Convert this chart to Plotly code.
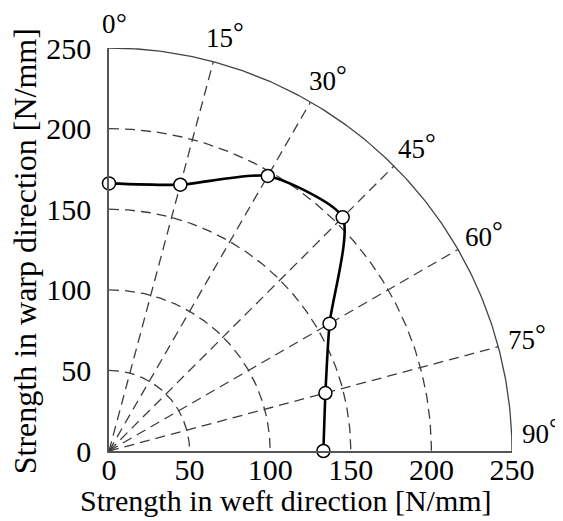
import numpy as np
import plotly.graph_objects as go

# ---- data ----
angle_deg = [0, 15, 30, 45, 60, 75, 90]          # loading direction (deg from warp)
strength = [166, 171, 197, 205, 158, 139, 133]   # tensile strength [N/mm]
grid_radii = [50, 100, 150, 200]
outer_radius = 250
ray_angles = [15, 30, 45, 60, 75]
label_angles = [0, 15, 30, 45, 60, 75, 90]
tick_vals = [0, 50, 100, 150, 200, 250]
tick_text = ["0", "50", "100", "150", "200", "250"]

FONT = "Liberation Serif"
GRID = "#3c3c3c"
AX_MAX = 250.0
LABEL_R = 265
LABEL_MAX_ANGLE = 87.7
LABEL_SIZE = 27
M_TOP = 40
PLOT_H = 403

th = np.radians(angle_deg)
r = np.array(strength, dtype=float)
weft = r * np.sin(th)
warp = r * np.cos(th)

fig = go.Figure()

# dashed arcs
phi = np.linspace(0, np.pi / 2, 200)
for rad in grid_radii:
    fig.add_trace(go.Scatter(x=rad * np.sin(phi), y=rad * np.cos(phi), mode="lines",
                             line=dict(color=GRID, width=1.3, dash="10px,6px"),
                             hoverinfo="skip", showlegend=False))
# outer solid arc
fig.add_trace(go.Scatter(x=outer_radius * np.sin(phi), y=outer_radius * np.cos(phi), mode="lines",
                         line=dict(color="#444444", width=1.3), hoverinfo="skip", showlegend=False))
# dashed rays
for a in ray_angles:
    t = np.radians(a)
    fig.add_trace(go.Scatter(x=[0, outer_radius * np.sin(t)], y=[0, outer_radius * np.cos(t)],
                             mode="lines", line=dict(color=GRID, width=1.3, dash="10px,6px"),
                             hoverinfo="skip", showlegend=False))

# data curve
fig.add_trace(go.Scatter(x=weft, y=warp, mode="lines+markers",
                         line=dict(color="black", width=2.6, shape="spline", smoothing=0.65),
                         marker=dict(size=13, color="white", line=dict(color="black", width=1.5)),
                         cliponaxis=False, showlegend=False))

# angle labels (paper coords, converted from the data scale) with raised degree ring
for a in label_angles:
    t = np.radians(min(a, LABEL_MAX_ANGLE))
    px_ = LABEL_R * np.sin(t) / AX_MAX
    py_ = LABEL_R * np.cos(t) / AX_MAX
    txt = str(a)
    half_w = len(txt) * 0.5 * LABEL_SIZE / 2
    # keep the ring's text box inside the page
    center_from_top = M_TOP + (1 - py_) * PLOT_H
    ring_shift = min(6, center_from_top - 0.56 * LABEL_SIZE)
    fig.add_annotation(x=px_, y=py_, xref="paper", yref="paper",
                       text=txt, showarrow=False, xanchor="center", yanchor="middle",
                       font=dict(family=FONT, size=LABEL_SIZE, color="black"))
    fig.add_annotation(x=px_, y=py_, xref="paper", yref="paper",
                       xshift=half_w - 2, yshift=ring_shift,
                       text="°", showarrow=False, xanchor="left", yanchor="middle",
                       font=dict(family=FONT, size=LABEL_SIZE, color="black"))

# axis titles
fig.add_annotation(x=0.44, y=-0.122, xref="paper", yref="paper",
                   text="Strength in weft direction [N/mm]", showarrow=False,
                   xanchor="center", yanchor="middle",
                   font=dict(family=FONT, size=30, color="black"))
fig.add_annotation(x=-0.208, y=0.496, xref="paper", yref="paper",
                   text="Strength in warp direction [N/mm]", showarrow=False, textangle=-90,
                   xanchor="center", yanchor="middle",
                   font=dict(family=FONT, size=32, color="black"))

axis_common = dict(range=[0, 250], showgrid=False, zeroline=False, showline=True,
                   linecolor="#555555", linewidth=1.5, tickvals=tick_vals, ticktext=tick_text,
                   tickfont=dict(family=FONT, size=30, color="black"))
fig.update_xaxes(**axis_common, ticks="", ticklabelstandoff=-9)
fig.update_yaxes(**axis_common, ticks="outside", ticklen=10, tickcolor="rgba(0,0,0,0)")

fig.update_layout(width=563, height=521, margin=dict(l=101, r=59, t=M_TOP, b=78),
                  plot_bgcolor="white", paper_bgcolor="white", showlegend=False)

fig.write_html("out.html")
